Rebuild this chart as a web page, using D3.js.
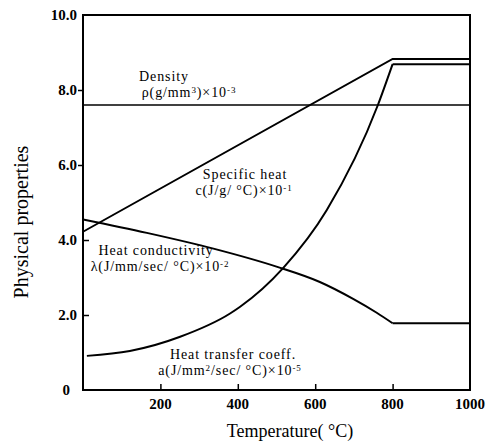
<!DOCTYPE html>
<html>
<head>
<meta charset="utf-8">
<script src="https://cdn.jsdelivr.net/npm/d3@7"></script>
<style>
  html, body { margin: 0; padding: 0; background: #fff; }
  svg { display: block; }
  text { font-family: "Liberation Serif", "Times New Roman", serif; fill: #000; }
</style>
</head>
<body>
<svg id="chart" width="492" height="444"></svg>
<script>
// Temperature (°C) and property values for each curve
const densityT = [0, 1000];
const densityV = [7.6, 7.6];

const specificHeatT = [0, 800, 1000];
const specificHeatV = [4.22, 8.83, 8.83];

const conductivityT = [0, 165, 337, 500, 612, 698, 759, 800, 1000];
const conductivityV = [4.55, 4.19, 3.77, 3.29, 2.88, 2.43, 2.06, 1.78, 1.78];

const transferT = [10, 121, 251, 380, 406, 517, 630, 762, 800, 1000];
const transferV = [0.91, 1.04, 1.42, 2.04, 2.22, 3.25, 4.8, 7.6, 8.69, 8.69];

// Axis ticks and labels
const xTicks = [200, 400, 600, 800, 1000];
const yTicks = [0, 2, 4, 6, 8, 10];
const yTickLabels = ["0", "2.0", "4.0", "6.0", "8.0", "10.0"];

const svg = d3.select("#chart");
const plotLeft = 83, plotRight = 470, plotTop = 15, plotBottom = 390;

const x = d3.scaleLinear().domain([0, 1000]).range([plotLeft, plotRight]);
const y = d3.scaleLinear().domain([0, 10]).range([plotBottom, plotTop]);

const pts = (T, V) => T.map((t, i) => [t, V[i]]);

// Frame
svg.append("rect")
  .attr("x", plotLeft).attr("y", plotTop)
  .attr("width", plotRight - plotLeft).attr("height", plotBottom - plotTop)
  .attr("fill", "none").attr("stroke", "#000").attr("stroke-width", 2);

// X axis: ticks point into the plot
const xAxis = svg.append("g")
  .attr("transform", `translate(0,${plotBottom})`)
  .call(d3.axisTop(x).tickValues(xTicks.filter(t => t < 1000)).tickSize(6).tickFormat(""));
xAxis.select(".domain").remove();
xAxis.selectAll("line").attr("stroke-width", 1.5);

svg.append("g").selectAll("text")
  .data(xTicks).join("text")
  .attr("x", d => x(d)).attr("y", 409)
  .attr("text-anchor", "middle")
  .attr("font-size", 15).attr("font-weight", "bold")
  .text(d => d);

// Y axis ticks: outer ticks on the upper values, inner ticks on the lower ones
const yOut = svg.append("g")
  .attr("transform", `translate(${plotLeft},0)`)
  .call(d3.axisLeft(y).tickValues([6, 8]).tickSize(5).tickFormat(""));
yOut.select(".domain").remove();
yOut.selectAll("line").attr("stroke-width", 1.5);

const yIn = svg.append("g")
  .attr("transform", `translate(${plotLeft},0)`)
  .call(d3.axisRight(y).tickValues([2, 4]).tickSize(6).tickFormat(""));
yIn.select(".domain").remove();
yIn.selectAll("line").attr("stroke-width", 1.5);

svg.append("g").selectAll("text")
  .data(yTicks).join("text")
  .attr("x", d => d === 0 ? 70 : 77)
  .attr("y", d => y(d) + 5)
  .attr("text-anchor", "end")
  .attr("font-size", 15).attr("font-weight", "bold")
  .text((d, i) => yTickLabels[i]);

// Axis titles
svg.append("text")
  .attr("transform", "translate(28,222) rotate(-90)")
  .attr("text-anchor", "middle")
  .attr("font-size", 20)
  .text("Physical properties");

svg.append("text")
  .attr("x", 290).attr("y", 437)
  .attr("text-anchor", "middle")
  .attr("font-size", 18)
  .text("Temperature( °C)");

// Curves: smooth part up to 800 °C, straight plateau after it
const smooth = d3.line().x(d => x(d[0])).y(d => y(d[1])).curve(d3.curveMonotoneX);
const straight = d3.line().x(d => x(d[0])).y(d => y(d[1]));

function drawSeries(T, V, curved, width) {
  const p = pts(T, V);
  if (!curved) {
    svg.append("path").attr("d", straight(p))
      .attr("fill", "none").attr("stroke", "#000").attr("stroke-width", width)
      .attr("stroke-linejoin", "miter");
    return;
  }
  const head = p.filter(d => d[0] <= 800);
  const tail = p.filter(d => d[0] >= 800);
  svg.append("path").attr("d", smooth(head))
    .attr("fill", "none").attr("stroke", "#000").attr("stroke-width", width);
  svg.append("path").attr("d", straight(tail))
    .attr("fill", "none").attr("stroke", "#000").attr("stroke-width", width);
}

drawSeries(densityT, densityV, false, 1.6);
drawSeries(specificHeatT, specificHeatV, false, 2);
drawSeries(conductivityT, conductivityV, true, 2);
drawSeries(transferT, transferV, true, 2);

// Two-line curve annotation: a name line, then a units line with superscripts
function label(name, nameX, unitsX, baseY, units) {
  const t = svg.append("text")
    .attr("y", baseY)
    .attr("text-anchor", "middle")
    .attr("font-size", 14)
    .attr("letter-spacing", 0.9);
  t.append("tspan").attr("x", nameX).attr("y", baseY).text(name);
  let raised = false;
  units.forEach((p, i) => {
    const s = t.append("tspan");
    if (i === 0) s.attr("x", unitsX).attr("y", baseY + 15.5);
    if (typeof p === "string") {
      if (raised) s.attr("dy", 4);
      s.text(p);
      raised = false;
    } else {
      if (!raised) s.attr("dy", -4);
      s.attr("font-size", 9).text(p.sup);
      raised = true;
    }
  });
}

label("Density", 164, 189, 81, ["ρ(g/mm", { sup: "3" }, ")×10", { sup: "-3" }]);
label("Specific heat", 245, 244, 179, ["c(J/g/ °C)×10", { sup: "-1" }]);
label("Heat conductivity", 156, 160, 255, ["λ(J/mm/sec/ °C)×10", { sup: "-2" }]);
label("Heat transfer coeff.", 233, 230, 359, ["a(J/mm", { sup: "2" }, "/sec/ °C)×10", { sup: "-5" }]);
</script>
</body>
</html>
